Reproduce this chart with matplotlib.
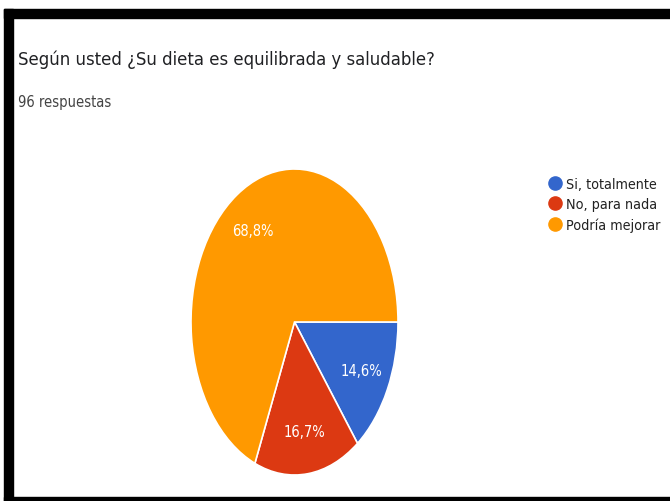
import matplotlib
matplotlib.use('Agg')
import matplotlib.pyplot as plt
from matplotlib.lines import Line2D
from matplotlib.patches import Rectangle

# narrow lettering, close to the condensed look of the card
plt.rcParams['font.family'] = ['DejaVu Sans']
plt.rcParams['font.stretch'] = 'condensed'

# Survey answers (96 respuestas)
categorias = ['Si, totalmente', 'No, para nada', 'Podría mejorar']
respuestas = [14, 16, 66]
colores = ['#3366CC', '#DC3912', '#FF9900']
titulo = 'Según usted ¿Su dieta es equilibrada y saludable?'
subtitulo = '96 respuestas'

W, H = 670, 502
fig = plt.figure(figsize=(W / 100, H / 100), dpi=100)
fig.patch.set_facecolor('white')

# black frame around the card (top, left, bottom)
for x0, y0, w, h in [(4, 10, W - 4, 9), (4, 10, 9, H - 10), (4, 498, W - 4, 4)]:
    fig.patches.append(Rectangle((x0 / W, 1 - (y0 + h) / H), w / W, h / H,
                                 transform=fig.transFigure, color='black', zorder=5))

fig.text(18 / W, 1 - 65 / H, titulo, fontsize=13.2, color='#202124', va='baseline')
fig.text(18 / W, 1 - 107 / H, subtitulo, fontsize=10.5, color='#444444', va='baseline')

# pie is drawn in a non-square axes, so it comes out as an ellipse
ax = fig.add_axes([191 / W, 1 - 476 / H, 207 / W, 306 / H])


def etiqueta(pct):
    return f'{pct:.1f}%'.replace('.', ',')


wedges, texts, autotexts = ax.pie(respuestas, colors=colores, startangle=0, counterclock=False,
                                  autopct=etiqueta, pctdistance=0.72,
                                  wedgeprops=dict(edgecolor='white', linewidth=1.2),
                                  textprops=dict(color='white', fontsize=10.5))
ax.set_xlim(-1, 1)
ax.set_ylim(-1, 1)
ax.set_aspect('auto')
ax.axis('off')

handles = [Line2D([0], [0], marker='o', linestyle='', markersize=9.5,
                  markerfacecolor=c, markeredgecolor=c) for c in colores]
fig.legend(handles, categorias, loc='upper left', bbox_to_anchor=(549 / W, 1 - 178 / H),
           frameon=False, fontsize=10.3, handlelength=0.8, handletextpad=0.4,
           labelspacing=0.42, borderaxespad=0, borderpad=0, labelcolor='#222222')

fig.savefig('out.png', dpi=100)
